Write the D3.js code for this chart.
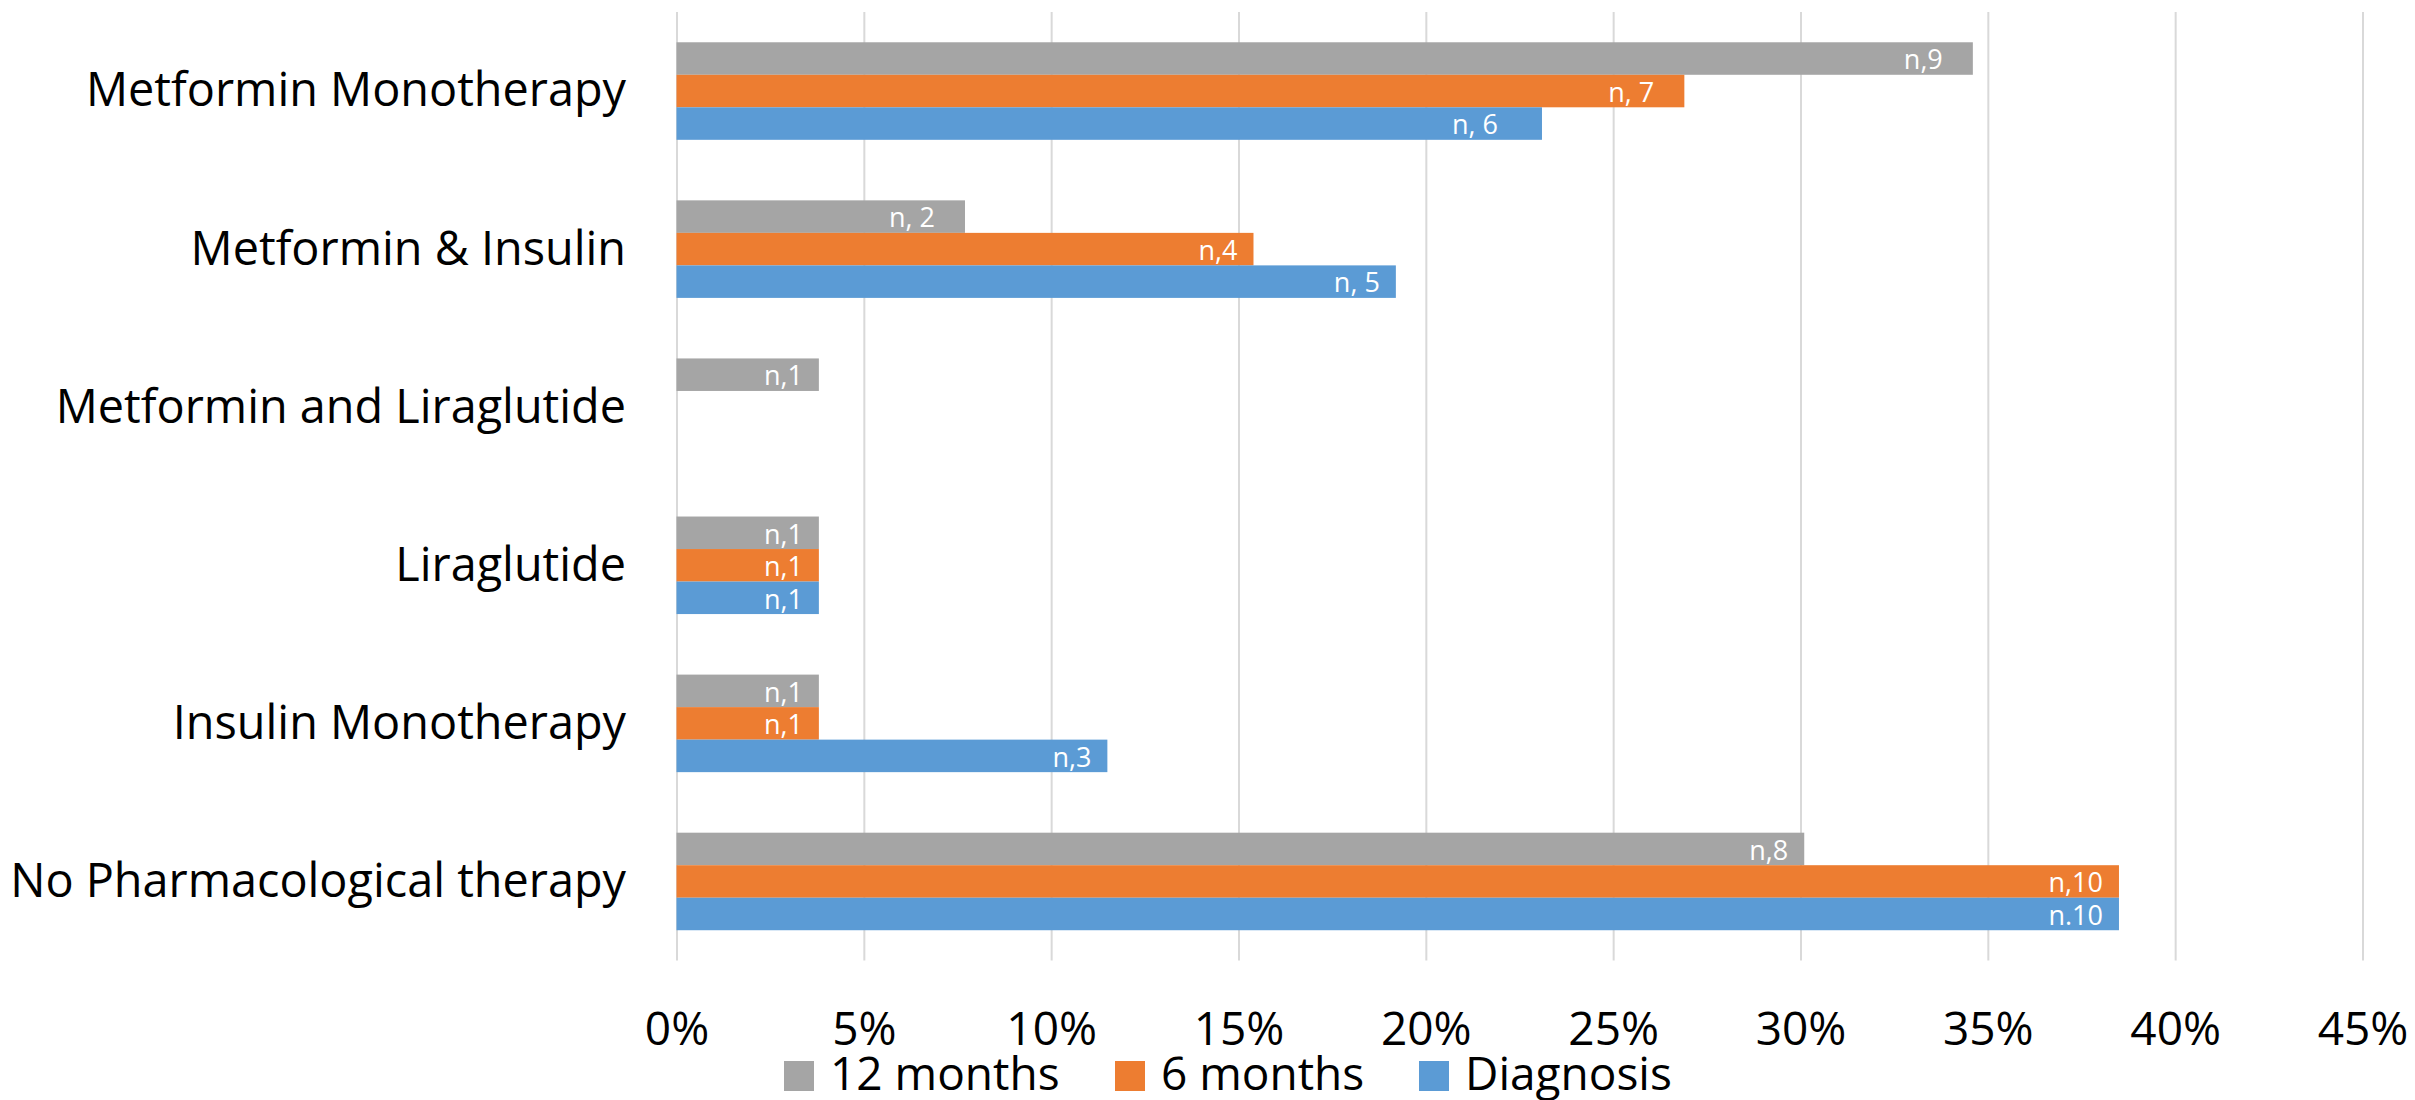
<!DOCTYPE html>
<html>
<head>
<meta charset="utf-8">
<script src="https://cdn.jsdelivr.net/npm/d3@7"></script>
<style>
  html, body { margin: 0; padding: 0; background: #fff; }
  svg { display: block; font-family: "Open Sans", sans-serif; }
</style>
</head>
<body>
<svg id="chart" width="2415" height="1100"></svg>
<script>
// ---- data ----
const categories = [
  "Metformin Monotherapy",
  "Metformin & Insulin",
  "Metformin and Liraglutide",
  "Liraglutide",
  "Insulin Monotherapy",
  "No Pharmacological therapy"
];
const seriesNames = ["12 months", "6 months", "Diagnosis"];
const seriesColors = ["#A5A5A5", "#ED7D31", "#5B9BD5"];
// values in percent, one array per series, aligned with categories
const months12 = [34.6, 7.7, 3.8, 3.8, 3.8, 30.1];
const months6  = [26.9, 15.4, 0, 3.8, 3.8, 38.5];
const diagnosis = [23.1, 19.2, 0, 3.8, 11.5, 38.5];
// data label texts as typed (some carry trailing spaces)
const labels12 = ["n,9  ", "n, 2  ", "n,1", "n,1", "n,1", "n,8"];
const labels6  = ["n, 7  ", "n,4", "", "n,1", "n,1", "n,10"];
const labelsDx = ["n, 6    ", "n, 5", "", "n,1", "n,3", "n.10"];
const tickValues = [0, 5, 10, 15, 20, 25, 30, 35, 40, 45];
const tickLabels = ["0%", "5%", "10%", "15%", "20%", "25%", "30%", "35%", "40%", "45%"];

const seriesValues = [months12, months6, diagnosis];
const seriesLabels = [labels12, labels6, labelsDx];

// ---- layout ----
const svg = d3.select("#chart");
const plot = { left: 676.5, right: 2362.5, top: 12, bottom: 960.5 };

const x = d3.scaleLinear().domain([0, 45]).range([plot.left, plot.right]);
const y = d3.scaleBand().domain(categories).range([plot.top, plot.bottom])
  .paddingInner(0.383).paddingOuter(0.1915);
const ySub = d3.scaleBand().domain(seriesNames).range([0, y.bandwidth()]).padding(0);

// gridlines + tick labels via axis
const axis = d3.axisBottom(x)
  .tickValues(tickValues)
  .tickFormat((d, i) => tickLabels[i])
  .tickSize(-(plot.bottom - plot.top));
const gAxis = svg.append("g")
  .attr("transform", `translate(0,${plot.bottom})`)
  .call(axis);
gAxis.select(".domain").remove();
gAxis.selectAll(".tick line").attr("stroke", "#D9D9D9").attr("stroke-width", 2);
gAxis.selectAll(".tick text")
  .attr("y", 1045 - plot.bottom)
  .attr("dy", 0)
  .attr("fill", "#000")
  .style("font-family", "'Open Sans', sans-serif")
  .style("font-size", "46px");

// bars
const rows = [];
seriesNames.forEach((s, si) => {
  categories.forEach((c, ci) => {
    rows.push({ cat: c, series: s, si, value: seriesValues[si][ci], label: seriesLabels[si][ci] });
  });
});

svg.append("g").selectAll("rect")
  .data(rows.filter(d => d.value > 0))
  .join("rect")
  .attr("x", x(0))
  .attr("y", d => y(d.cat) + ySub(d.series))
  .attr("width", d => x(d.value) - x(0))
  .attr("height", ySub.bandwidth())
  .attr("fill", d => seriesColors[d.si]);

svg.append("g").selectAll("text")
  .data(rows.filter(d => d.value > 0 && d.label))
  .join("text")
  .attr("x", d => x(d.value) - 16)
  .attr("y", d => y(d.cat) + ySub(d.series) + ySub.bandwidth() / 2)
  .attr("dy", "0.4em")
  .attr("text-anchor", "end")
  .attr("fill", "#fff")
  .style("font-size", "27px")
  .style("white-space", "pre")
  .text(d => d.label);

// category labels
svg.append("g").selectAll("text")
  .data(categories)
  .join("text")
  .attr("x", 626)
  .attr("y", d => y(d) + y.bandwidth() / 2)
  .attr("dy", "0.33em")
  .attr("text-anchor", "end")
  .attr("fill", "#000")
  .style("font-size", "46.8px")
  .text(d => d);

// legend
const legendX = [784, 1115, 1419];
const legend = svg.append("g").selectAll("g")
  .data(seriesNames)
  .join("g")
  .attr("transform", (d, i) => `translate(${legendX[i]},1061)`);
legend.append("rect")
  .attr("width", 30).attr("height", 30)
  .attr("fill", (d, i) => seriesColors[i]);
legend.append("text")
  .attr("x", 46).attr("y", 29)
  .attr("fill", "#000")
  .style("font-size", "46px")
  .text(d => d);
</script>
</body>
</html>
